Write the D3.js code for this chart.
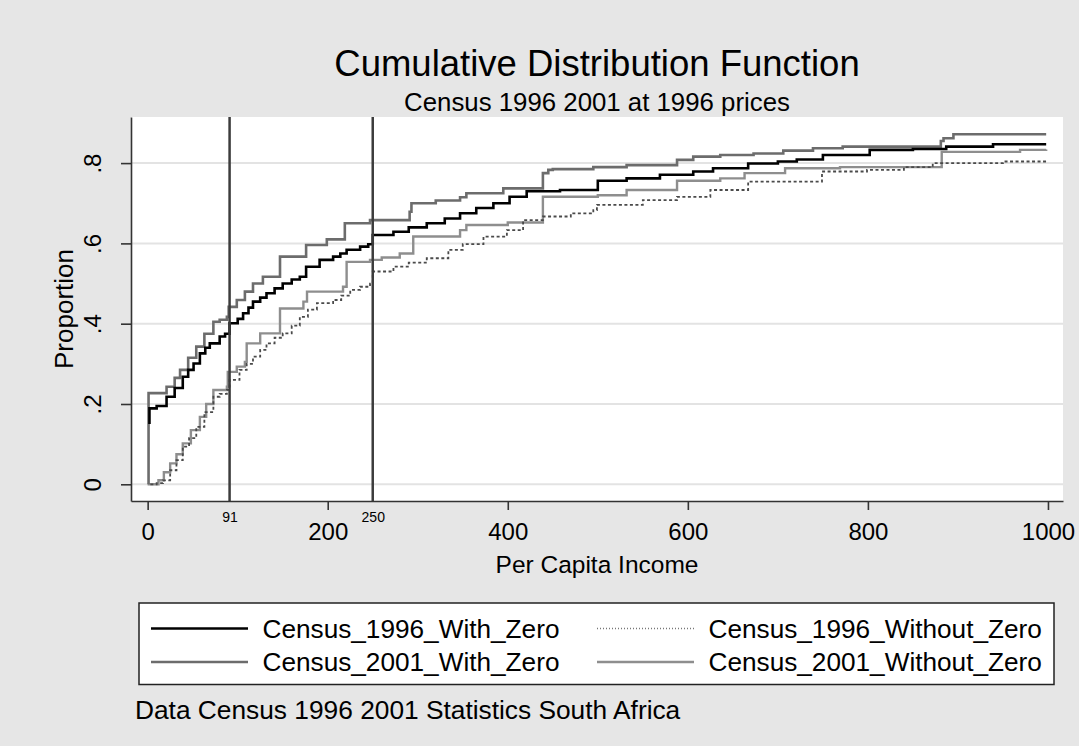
<!DOCTYPE html>
<html>
<head>
<meta charset="utf-8">
<script src="https://cdn.jsdelivr.net/npm/d3@7"></script>
<style>
  html, body { margin: 0; padding: 0; background: #e6e6e6; }
  svg { display: block; font-family: "Liberation Sans", Arial, Helvetica, sans-serif; }
</style>
</head>
<body>
<svg id="chart" width="1079" height="746"></svg>
<script>
// ---------- DATA ----------
const seriesNames = ["Census_1996_With_Zero", "Census_1996_Without_Zero", "Census_2001_With_Zero", "Census_2001_Without_Zero"];

// step points [income, cumulative proportion]
const census1996WithZero = [[2,0.15],[2,0.189],[10,0.195],[21,0.218],[30,0.24],[39,0.268],[45,0.285],[51,0.301],[58,0.326],[64,0.34],[69,0.351],[80,0.368],[86,0.375],[91,0.401],[100,0.412],[106,0.426],[112,0.44],[117,0.455],[125,0.465],[132,0.476],[141,0.488],[150,0.5],[160,0.51],[169,0.517],[176,0.542],[191,0.559],[206,0.567],[214,0.575],[221,0.584],[236,0.592],[245,0.598],[250,0.621],[273,0.629],[290,0.64],[310,0.65],[330,0.662],[347,0.675],[365,0.688],[384,0.7],[402,0.716],[421,0.73],[458,0.733],[500,0.756],[532,0.762],[569,0.771],[606,0.779],[628,0.787],[667,0.799],[700,0.804],[721,0.809],[750,0.82],[802,0.833],[850,0.835],[887,0.841],[939,0.847],[998,0.847]];

const census1996WithoutZero = [[3,0],[10,0.003],[17,0.01],[25,0.035],[32,0.06],[39,0.094],[46,0.115],[54,0.143],[63,0.18],[73,0.218],[80,0.225],[88,0.235],[91,0.26],[102,0.285],[110,0.3],[117,0.318],[125,0.335],[132,0.351],[141,0.365],[150,0.376],[160,0.395],[169,0.417],[178,0.435],[188,0.451],[206,0.459],[215,0.47],[225,0.484],[236,0.492],[247,0.5],[250,0.53],[273,0.542],[290,0.552],[310,0.563],[334,0.584],[350,0.598],[373,0.617],[399,0.633],[417,0.658],[439,0.667],[470,0.675],[495,0.683],[499,0.696],[550,0.708],[588,0.716],[625,0.733],[667,0.754],[749,0.779],[799,0.783],[840,0.79],[872,0.8],[950,0.804],[998,0.808]];

const census2001WithZero = [[1,0],[1,0.227],[12,0.227],[21,0.243],[30,0.265],[36,0.285],[45,0.315],[54,0.343],[63,0.375],[73,0.405],[80,0.41],[88,0.417],[90,0.442],[99,0.459],[108,0.48],[117,0.5],[128,0.517],[147,0.567],[176,0.596],[199,0.61],[219,0.65],[247,0.658],[291,0.679],[293,0.7],[320,0.707],[347,0.715],[354,0.725],[395,0.737],[439,0.74],[439,0.775],[445,0.783],[450,0.785],[495,0.79],[532,0.795],[588,0.808],[606,0.816],[636,0.82],[673,0.824],[706,0.831],[739,0.837],[772,0.841],[881,0.855],[884,0.862],[895,0.872],[998,0.872]];

const census2001WithoutZero = [[0,0],[12,0.01],[18,0.03],[25,0.052],[32,0.075],[39,0.102],[48,0.135],[58,0.168],[65,0.2],[73,0.235],[88,0.243],[89,0.28],[99,0.293],[108,0.305],[110,0.351],[125,0.376],[147,0.438],[173,0.455],[177,0.48],[217,0.492],[221,0.554],[247,0.559],[260,0.565],[280,0.575],[295,0.617],[347,0.633],[354,0.646],[400,0.652],[439,0.716],[500,0.72],[532,0.733],[588,0.756],[636,0.762],[663,0.775],[708,0.787],[769,0.79],[882,0.828],[969,0.833],[998,0.834]];

const xTickValues = [0, 200, 400, 600, 800, 1000];
const xMarkValues = [91, 250];
const yTickValues = [0, 0.2, 0.4, 0.6, 0.8];
const yTickLabels = ["0", ".2", ".4", ".6", ".8"];

const titleText = "Cumulative Distribution Function";
const subtitleText = "Census 1996 2001 at 1996 prices";
const xTitle = "Per Capita Income";
const yTitle = "Proportion";
const captionText = "Data Census 1996 2001 Statistics South Africa";

// ---------- LAYOUT ----------
const svg = d3.select("#chart");
const W = 1079, H = 746;
const plot = { left: 131, right: 1063, top: 117, bottom: 501 };

const x = d3.scaleLinear().domain([-18.5, 1016.7]).range([plot.left, plot.right]);
const y = d3.scaleLinear().domain([-0.0416, 0.9148]).range([plot.bottom, plot.top]);

svg.append("rect").attr("width", W).attr("height", H).attr("fill", "#e6e6e6");
svg.append("rect")
  .attr("x", plot.left).attr("y", plot.top)
  .attr("width", plot.right - plot.left).attr("height", plot.bottom - plot.top)
  .attr("fill", "#ffffff");

// gridlines
svg.append("g").selectAll("line").data(yTickValues).join("line")
  .attr("x1", plot.left).attr("x2", plot.right)
  .attr("y1", d => y(d)).attr("y2", d => y(d))
  .attr("stroke", "#e3e3e3").attr("stroke-width", 2);

// series
const styles = {
  "Census_1996_With_Zero":    { data: census1996WithZero,    color: "#000000", width: 2.6, dash: null, legendColor: "#000000" },
  "Census_1996_Without_Zero": { data: census1996WithoutZero, color: "#4a4a4a", width: 1.8, dash: "3,2.5", legendColor: "#777777" },
  "Census_2001_With_Zero":    { data: census2001WithZero,    color: "#6c6c6c", width: 2.6, dash: null, legendColor: "#6c6c6c" },
  "Census_2001_Without_Zero": { data: census2001WithoutZero, color: "#8e8e8e", width: 2.4, dash: null, legendColor: "#8e8e8e" }
};
const line = d3.line().x(d => x(d[0])).y(d => y(d[1])).curve(d3.curveStepAfter);
const drawOrder = ["Census_2001_Without_Zero", "Census_1996_Without_Zero", "Census_2001_With_Zero", "Census_1996_With_Zero"];
drawOrder.forEach(name => {
  const s = styles[name];
  svg.append("path").datum(s.data)
    .attr("d", line).attr("fill", "none")
    .attr("stroke", s.color).attr("stroke-width", s.width)
    .attr("stroke-dasharray", s.dash)
    .attr("stroke-linejoin", "miter");
});

// reference lines
svg.append("g").selectAll("line").data(xMarkValues).join("line")
  .attr("x1", d => x(d)).attr("x2", d => x(d))
  .attr("y1", plot.top).attr("y2", plot.bottom)
  .attr("stroke", "#3c3c3c").attr("stroke-width", 2.5);

// axes
const xAxis = svg.append("g").attr("transform", `translate(0,${plot.bottom})`)
  .call(d3.axisBottom(x).tickValues(xTickValues).tickSizeInner(9).tickSizeOuter(0).tickPadding(13).tickFormat(d3.format("d")));
xAxis.selectAll("text").attr("font-size", 24).attr("fill", "#000");

const xMarks = svg.append("g").attr("transform", `translate(0,${plot.bottom})`)
  .call(d3.axisBottom(x).tickValues(xMarkValues).tickSize(0).tickPadding(11).tickFormat(d3.format("d")));
xMarks.select(".domain").remove();
xMarks.selectAll("text").attr("font-size", 14).attr("fill", "#000");

const yAxis = svg.append("g").attr("transform", `translate(${plot.left},0)`)
  .call(d3.axisLeft(y).tickValues(yTickValues).tickSizeInner(10).tickSizeOuter(0).tickFormat((d, i) => yTickLabels[i]));
yAxis.selectAll("text")
  .attr("font-size", 24).attr("fill", "#000")
  .attr("transform", "rotate(-90)")
  .attr("x", 0).attr("y", -30).attr("dy", 0)
  .attr("text-anchor", "middle");

[xAxis, yAxis].forEach(g => {
  g.select(".domain").attr("stroke", "#333").attr("stroke-width", 1.6);
  g.selectAll(".tick line").attr("stroke", "#333").attr("stroke-width", 1.6);
});

// titles
const cx = (plot.left + plot.right) / 2;
svg.append("text").attr("x", cx).attr("y", 76).attr("text-anchor", "middle")
  .attr("font-size", 36.5).attr("fill", "#000").text(titleText);
svg.append("text").attr("x", cx).attr("y", 111).attr("text-anchor", "middle")
  .attr("font-size", 25.8).attr("fill", "#000").text(subtitleText);
svg.append("text").attr("x", cx).attr("y", 573).attr("text-anchor", "middle")
  .attr("font-size", 24.5).attr("fill", "#000").text(xTitle);
svg.append("text").attr("transform", `translate(73,${(plot.top + plot.bottom) / 2}) rotate(-90)`)
  .attr("text-anchor", "middle").attr("font-size", 26).attr("fill", "#000").text(yTitle);

// legend
const legend = svg.append("g");
legend.append("rect").attr("x", 139).attr("y", 603).attr("width", 915).attr("height", 81.5)
  .attr("fill", "#fff").attr("stroke", "#222").attr("stroke-width", 1.5);
const legendItems = [
  { name: "Census_1996_With_Zero",    col: 0, row: 0 },
  { name: "Census_1996_Without_Zero", col: 1, row: 0 },
  { name: "Census_2001_With_Zero",    col: 0, row: 1 },
  { name: "Census_2001_Without_Zero", col: 1, row: 1 }
];
const colX = [151, 597], rowY = [628.5, 662];
legendItems.forEach(it => {
  const s = styles[it.name];
  const lx = colX[it.col], ly = rowY[it.row];
  legend.append("line").attr("x1", lx).attr("x2", lx + 97).attr("y1", ly).attr("y2", ly)
    .attr("stroke", s.legendColor).attr("stroke-width", s.dash ? 1.3 : s.width)
    .attr("stroke-dasharray", s.dash ? "1,2" : null);
  legend.append("text").attr("x", lx + 111.5).attr("y", ly + 9.3)
    .attr("font-size", 26.2).attr("fill", "#000").text(it.name);
});

// caption
svg.append("text").attr("x", 135).attr("y", 719).attr("font-size", 26.3).attr("fill", "#000").text(captionText);
</script>
</body>
</html>
